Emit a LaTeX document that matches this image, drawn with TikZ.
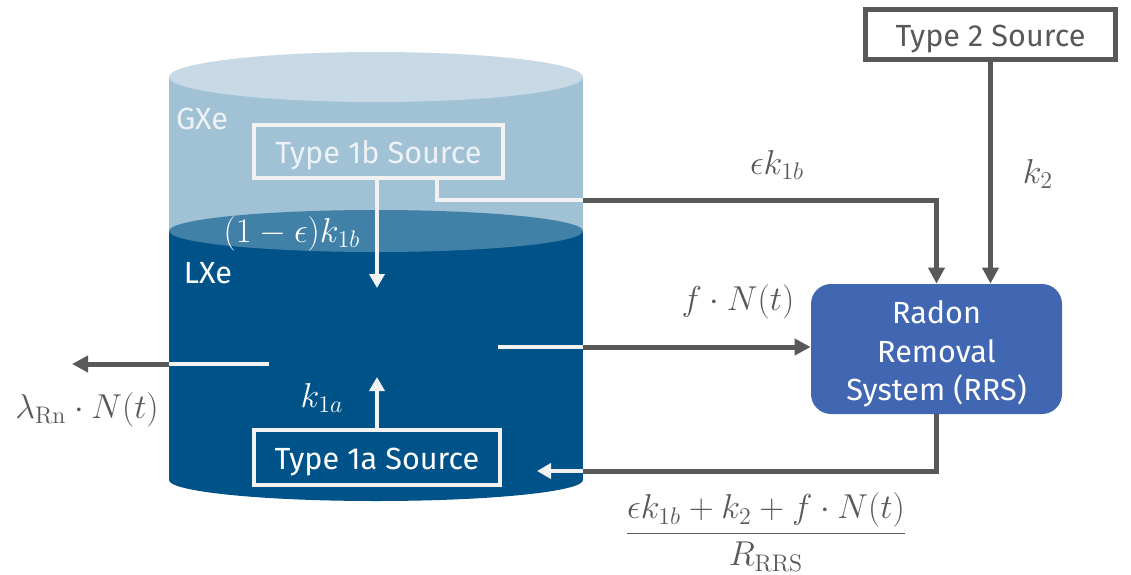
\documentclass[tikz,border=0pt]{standalone}
\usepackage{amsmath}
\usepackage[no-math]{fontspec}
\setmainfont{Fira Sans}
\usetikzlibrary{arrows.meta}
\definecolor{gxetop}{HTML}{C6D9E5}
\definecolor{gxe}{HTML}{A1C1D5}
\definecolor{surf}{HTML}{4181A8}
\definecolor{lxe}{HTML}{005388}
\definecolor{rrsblue}{HTML}{4267B2}
\definecolor{dgray}{HTML}{595959}
\definecolor{wcol}{HTML}{F2F2F2}
\definecolor{ltext}{HTML}{EDF2F6}
\begin{document}
\begin{tikzpicture}[x=0.5pt,y=-0.5pt,
  font=\fontsize{15.3}{19.3}\selectfont,
  srcbox/.style={draw=wcol, line width=2pt, inner sep=0pt, text height=15.3pt, text depth=3.3pt},
  gl/.style={draw=dgray, line width=2.5pt},
  wl/.style={draw=wcol, line width=2pt},
  tip/.style={-{Triangle[length=8pt,width=8pt]}},
  wtip/.style={-{Triangle[length=7pt,width=7.5pt]}},
  mathsize/.style={font=\fontsize{17.3}{21}\selectfont},
  glabel/.style={text=dgray, inner sep=0pt, mathsize},
  wlabel/.style={text=white, inner sep=0pt, mathsize}]
\useasboundingbox (0,0) rectangle (1131,574);

% cylinder: gas phase, liquid phase, liquid surface and top face
\fill[gxe] (169,77) rectangle (583,231);
\fill[lxe] (169,231) rectangle (583,480);
\fill[lxe] (376,480) ellipse [x radius=207, y radius=21];
\fill[surf] (376,231) ellipse [x radius=207, y radius=21];
\fill[gxetop] (376,77) ellipse [x radius=207, y radius=25];

\node[text=ltext, inner sep=0pt] (gxelab) at (202,119) {GXe};
\node[text=white, inner sep=0pt] (lxelab) at (208,273) {LXe};

% sources
\node[srcbox, minimum width=124.5pt, minimum height=26.5pt, text=ltext] (t1b) at (378.5,151.5) {Type 1b Source};
\node[srcbox, minimum width=123pt, minimum height=27.5pt, text=white] (t1a) at (377,457.5) {Type 1a Source};
\node[draw=dgray, line width=2.5pt, fill=white, inner sep=0pt, text height=15.3pt, text depth=3.3pt, minimum width=125pt, minimum height=25pt, text=dgray] (t2) at (990.5,34.5) {Type 2 Source};
\node[fill=rrsblue, rounded corners=10pt, minimum width=125.5pt, minimum height=65pt, inner sep=0pt,
  label={[text=white, align=center, inner sep=0pt, yshift=-2.5pt]center:Radon\\Removal\\System (RRS)}] (rrs) at (936.5,349) {};

% connector end points
\coordinate (b1) at (437,180);
\coordinate (eB) at (583,200);
\coordinate (down1b) at (377,288);
\coordinate (up1a) at (377,377);
\coordinate (lstart) at (269,364);
\coordinate (ledge) at (169,364);
\coordinate (lend) at (72,364);
\coordinate (rstart) at (498,347);
\coordinate (redge) at (583,347);
\coordinate (retedge) at (583,471);
\coordinate (retend) at (537,471);

% flows inside the detector
\draw[wl, wtip] (t1b.south -| down1b) -- (down1b);
\draw[wl, wtip] (t1a.north -| up1a) -- (up1a);

% decay loss
\draw[wl] (lstart) -- (ledge);
\draw[gl, tip] (ledge) -- (lend);

% circulation to the RRS
\draw[wl] (rstart) -- (redge);
\draw[gl, tip] (redge) -- (rrs.west |- redge);

% emanation from the gas phase
\draw[wl] (b1) |- (eB);
\draw[gl, tip] (eB) -| (rrs.north);

% external source
\draw[gl, tip] (t2.south) -- (t2.south |- rrs.north);

% return flow
\draw[gl] (rrs.south) |- (retedge);
\draw[wl, wtip] (retedge) -- (retend);

% labels
\node[wlabel] (l1b) at (292,234) {$(1-\epsilon)k_{1b}$};
\node[wlabel] (l1a) at (322,398) {$k_{1a}$};
\node[glabel] (llam) at (87,410) {$\lambda_{\mathrm{Rn}}\cdot N(t)$};
\node[glabel] (leps) at (777,165) {$\epsilon k_{1b}$};
\node[glabel] (lk2) at (1038,174) {$k_2$};
\node[glabel] (lf) at (738,302) {$f\cdot N(t)$};
\node[glabel] (lfrac) at (766,532) {$\dfrac{\epsilon k_{1b}+k_2+f\cdot N(t)}{R_{\mathrm{RRS}}}$};
\end{tikzpicture}
\end{document}
